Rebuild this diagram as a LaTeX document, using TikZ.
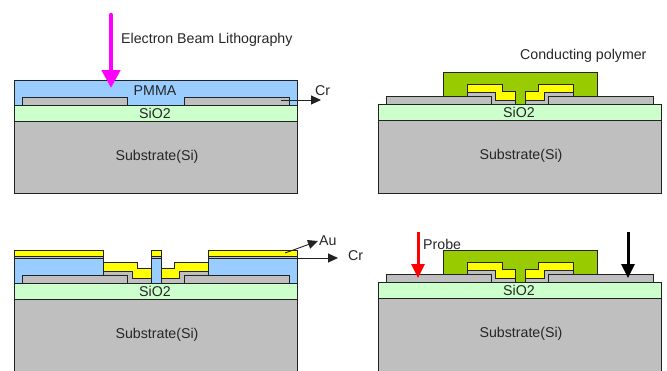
\documentclass[tikz,border=0pt]{standalone}
\usepackage{fontspec}
\setmainfont{Liberation Sans}
\usetikzlibrary{arrows.meta}
\definecolor{pmma}{HTML}{99CCFF}
\definecolor{oxide}{HTML}{CCFFCC}
\definecolor{metal}{HTML}{BFBFBF}
\definecolor{gold}{HTML}{FFFF00}
\definecolor{polymer}{HTML}{99CC00}
\definecolor{edge}{HTML}{222222}
\definecolor{ebeam}{HTML}{FF00FF}
\definecolor{probered}{HTML}{FF0000}
\tikzset{
  layer/.style={draw=edge,line width=0.9pt,line join=miter},
  substratelayer/.style={layer,fill=metal},
  oxidelayer/.style={layer,fill=oxide},
  metallayer/.style={layer,fill=metal},
  pmmalayer/.style={layer,fill=pmma},
  goldlayer/.style={layer,fill=gold},
  polymerlayer/.style={layer,fill=polymer},
  lbl/.style={font=\fontsize{14.2}{16}\selectfont,text=black!85,inner sep=0pt},
  leader/.style={draw=edge,line width=0.9pt,-{Triangle[length=10pt,width=9pt]}},
  beam/.style={line width=3pt,-{Triangle[length=14pt,width=13pt]}},
}
\newcommand{\basestack}[3]{%
  \draw[substratelayer] (#1,#3) rectangle (#1+283,#2);
  \draw[oxidelayer] (#1,#3) rectangle (#1+283,#3+16);
  \node[lbl] at (#1+141,#3+8) {SiO2};
  \node[lbl] at (#1+143,#3+52) {Substrate(Si)};
}
\newcommand{\devicestack}[1]{%
  \draw[polymerlayer] (443,#1+96) |- (597,#1+72) |- (386,#1+96) -- cycle;
  \fill[polymer] (515,#1+91) rectangle (525,#1+104);
  \draw[metallayer] (386,#1+104) |- (491,#1+96) -- (491,#1+104);
  \draw[metallayer] (548,#1+104) |- (653,#1+96) -- (653,#1+104);
  \draw[metallayer] (467,#1+92) -- (495,#1+92) -- (495,#1+100) -- (515,#1+100) -- (515,#1+104) -- (491,#1+104) -- (491,#1+96) -- (467,#1+96) -- cycle;
  \draw[metallayer] (573,#1+92) -- (544,#1+92) -- (544,#1+100) -- (525,#1+100) -- (525,#1+104) -- (548,#1+104) -- (548,#1+96) -- (573,#1+96) -- cycle;
  \draw[goldlayer] (467,#1+84) -- (502,#1+84) -- (502,#1+91) -- (515,#1+91) -- (515,#1+100) -- (495,#1+100) -- (495,#1+92) -- (467,#1+92) -- cycle;
  \draw[goldlayer] (573,#1+84) -- (538,#1+84) -- (538,#1+91) -- (525,#1+91) -- (525,#1+100) -- (544,#1+100) -- (544,#1+92) -- (573,#1+92) -- cycle;
}
\begin{document}
\begin{tikzpicture}[x=1pt,y=-1pt]
\useasboundingbox (0,0) rectangle (667,370);
\clip (0,0) rectangle (667,370);

% --- panel 1 (top left)
\draw[pmmalayer] (14,80) rectangle (297,105);
\draw[metallayer] (22,105) |- (127,97) -- (127,105);
\draw[metallayer] (184,105) |- (289,97) -- (289,105);
\basestack{14}{193}{105}
\node[lbl] (pmmatext) at (155,91) {PMMA};
\node[lbl,anchor=west] (ebltext) at (121,40) {Electron Beam Lithography};
\coordinate (ebltop) at (111,15);
\coordinate (ebltip) at (111,88);
\draw[ebeam,line width=4.5pt,line cap=round,-{Triangle[length=18pt,width=18pt]}] (ebltop) -- (ebltip);
\node[lbl,anchor=west] (crone) at (315,91) {Cr};
\coordinate (croneroot) at (281,100);
\coordinate (cronetip) at (321,100);
\draw[leader] (croneroot) -- (cronetip);

% --- panel 2 (top right)
\devicestack{0}
\basestack{378}{193}{104}
\node[lbl,anchor=west] (polytext) at (520,56) {Conducting polymer};

% --- panel 3 (bottom left)
\draw[pmmalayer] (14,258) rectangle (103.5,283);
\draw[pmmalayer] (208,258) rectangle (297,283);
\draw[metallayer] (22,283) |- (127,275) -- (127,283);
\draw[metallayer] (184,283) |- (289,275) -- (289,283);
\draw[metallayer] (103.5,271) -- (132,271) -- (132,278) -- (151.5,278) -- (151.5,283) -- (127,283) -- (127,275) -- (103.5,275) -- cycle;
\draw[metallayer] (208,271) -- (179,271) -- (179,278) -- (161.5,278) -- (161.5,283) -- (184,283) -- (184,275) -- (208,275) -- cycle;
\draw[goldlayer] (103.5,262) -- (137,262) -- (137,268) -- (151.5,268) -- (151.5,278) -- (132,278) -- (132,271) -- (103.5,271) -- cycle;
\draw[goldlayer] (208,262) -- (174,262) -- (174,268) -- (161.5,268) -- (161.5,278) -- (179,278) -- (179,271) -- (208,271) -- cycle;
\draw[pmmalayer] (151.5,258) rectangle (161.5,283);
\draw[metallayer] (14,256) rectangle (103.5,258);
\draw[metallayer] (151.5,256) rectangle (161.5,258);
\draw[metallayer] (208,256) rectangle (297,258);
\draw[goldlayer] (14,250) rectangle (103.5,256);
\draw[goldlayer] (151.5,250) rectangle (161.5,256);
\draw[goldlayer] (208,250) rectangle (297,256);
\basestack{14}{371}{283}
\node[lbl,anchor=west] (autext) at (319,241) {Au};
\node[lbl,anchor=west] (crtwo) at (348,256) {Cr};
\coordinate (auroot) at (285,253);
\coordinate (autip) at (318,241);
\draw[leader] (auroot) -- (autip);
\coordinate (crtworoot) at (296,258);
\coordinate (crtwotip) at (338,258);
\draw[leader] (crtworoot) -- (crtwotip);

% --- panel 4 (bottom right)
\devicestack{178}
\basestack{378}{371}{282}
\node[lbl,anchor=west] (probetext) at (423,244) {Probe};
\coordinate (redtop) at (418,232);
\coordinate (redtip) at (418,278);
\draw[beam,probered] (redtop) -- (redtip);
\coordinate (blacktop) at (628,232);
\coordinate (blacktip) at (628,278);
\draw[beam,black] (blacktop) -- (blacktip);
\end{tikzpicture}
\end{document}
